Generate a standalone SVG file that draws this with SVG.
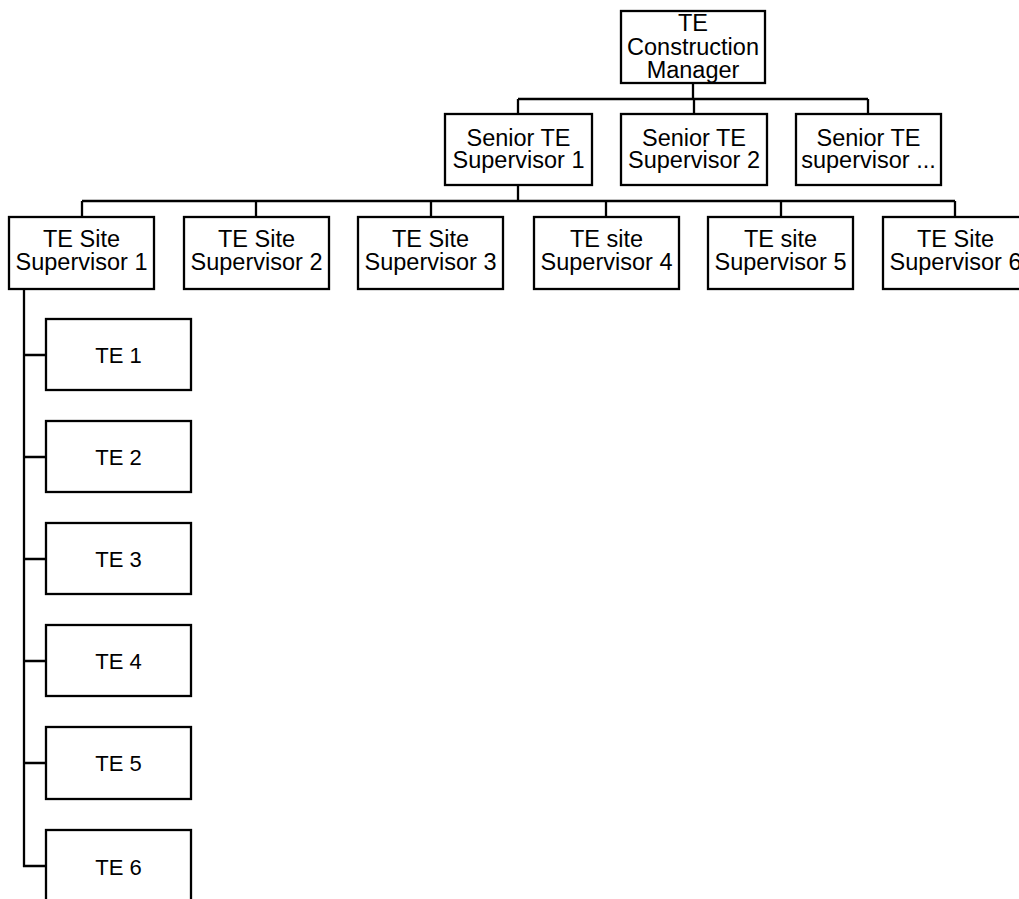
<svg xmlns="http://www.w3.org/2000/svg" width="1019" height="899" viewBox="0 0 1019 899">
<style>
.box{fill:#fff;stroke:#000;stroke-width:2.3}
.t{font-family:"Liberation Sans",Arial,sans-serif;font-size:23.5px;fill:#000;text-anchor:middle}
.s{font-size:22px}
.c{fill:none;stroke:#000;stroke-width:2.3}
</style>
<rect width="1019" height="899" fill="#fff"/>
<g id="connectors">
<path class="c" d="M693 83V99M518 99H868M518 99V114M694 99V114M868 99V114"/>
<path class="c" d="M518 185V201M82 201H955M82 201V217M256 201V217M431 201V217M606 201V217M781 201V217M955 201V217"/>
<path class="c" d="M24 289V867M24 355H46M24 457H46M24 559H46M24 661H46M24 763H46M23 866H46"/>
</g>
<g id="n-cm"><rect class="box" x="621" y="11" width="144" height="72"/><text class="t"><tspan x="693" y="31">TE</tspan><tspan x="693" y="55">Construction</tspan><tspan x="693" y="78">Manager</tspan></text></g>
<g id="n-s1"><rect class="box" x="445" y="114" width="147" height="71"/><text class="t"><tspan x="518.5" y="146">Senior TE</tspan><tspan x="518.5" y="168">Supervisor 1</tspan></text></g>
<g id="n-s2"><rect class="box" x="621" y="114" width="146" height="71"/><text class="t"><tspan x="694" y="146">Senior TE</tspan><tspan x="694" y="168">Supervisor 2</tspan></text></g>
<g id="n-s3"><rect class="box" x="796" y="114" width="145" height="71"/><text class="t"><tspan x="868.5" y="146">Senior TE</tspan><tspan x="868.5" y="168">supervisor ...</tspan></text></g>
<g id="n-ss1"><rect class="box" x="9" y="217" width="145" height="72"/><text class="t"><tspan x="81.5" y="247">TE Site</tspan><tspan x="81.5" y="270">Supervisor 1</tspan></text></g>
<g id="n-ss2"><rect class="box" x="184" y="217" width="145" height="72"/><text class="t"><tspan x="256.5" y="247">TE Site</tspan><tspan x="256.5" y="270">Supervisor 2</tspan></text></g>
<g id="n-ss3"><rect class="box" x="358" y="217" width="145" height="72"/><text class="t"><tspan x="430.5" y="247">TE Site</tspan><tspan x="430.5" y="270">Supervisor 3</tspan></text></g>
<g id="n-ss4"><rect class="box" x="534" y="217" width="145" height="72"/><text class="t"><tspan x="606.5" y="247">TE site</tspan><tspan x="606.5" y="270">Supervisor 4</tspan></text></g>
<g id="n-ss5"><rect class="box" x="708" y="217" width="145" height="72"/><text class="t"><tspan x="780.5" y="247">TE site</tspan><tspan x="780.5" y="270">Supervisor 5</tspan></text></g>
<g id="n-ss6"><rect class="box" x="883" y="217" width="145" height="72"/><text class="t"><tspan x="955.5" y="247">TE Site</tspan><tspan x="955.5" y="270">Supervisor 6</tspan></text></g>
<g id="n-te1"><rect class="box" x="46" y="319" width="145" height="71"/><text class="t s" x="118.5" y="363">TE 1</text></g>
<g id="n-te2"><rect class="box" x="46" y="421" width="145" height="71"/><text class="t s" x="118.5" y="465">TE 2</text></g>
<g id="n-te3"><rect class="box" x="46" y="523" width="145" height="71"/><text class="t s" x="118.5" y="567">TE 3</text></g>
<g id="n-te4"><rect class="box" x="46" y="625" width="145" height="71"/><text class="t s" x="118.5" y="669">TE 4</text></g>
<g id="n-te5"><rect class="box" x="46" y="727" width="145" height="72"/><text class="t s" x="118.5" y="771">TE 5</text></g>
<g id="n-te6"><rect class="box" x="46" y="830" width="145" height="72"/><text class="t s" x="118.5" y="875">TE 6</text></g>
</svg>
